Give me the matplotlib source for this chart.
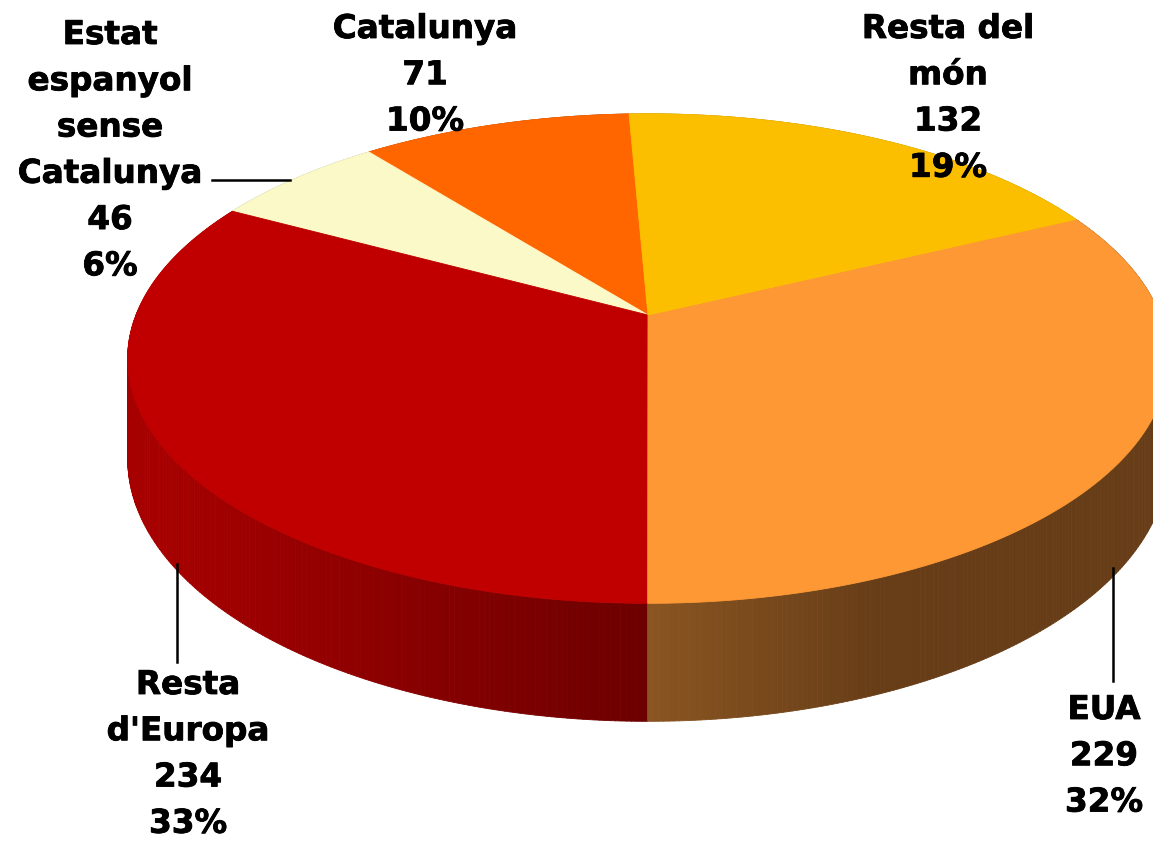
import numpy as np
import matplotlib
matplotlib.use("Agg")
import matplotlib.pyplot as plt
from matplotlib.collections import PolyCollection
from matplotlib.patches import Polygon
from matplotlib.colors import to_rgb
import matplotlib.patheffects as pe

# ---- data ----
categories = ["Catalunya", "Estat espanyol sense Catalunya", "Resta d'Europa", "EUA", "Resta del món"]
label_lines = ["Catalunya", "Estat\nespanyol\nsense\nCatalunya", "Resta\nd'Europa", "EUA", "Resta del\nmón"]
values = [71, 46, 234, 229, 132]
top_colors = ["#FF6600", "#FBF9C8", "#C00000", "#FD9834", "#FBBF00"]
# side gradient: (colour near pie centre-x, colour at far x, far x offset in px)
side_near = ["#B04A00", "#BDB990", "#6C0000", "#8A5521", "#B08600"]
side_far = ["#B04A00", "#BDB990", "#A60000", "#673D17", "#B08600"]
side_span = [300, 300, 480, 230, 300]

# label layout (pixel positions)
label_pos = [(425, 13), (110, 19), (188, 669), (1104, 694), (948, 13)]

# ---- geometry (pixel space) ----
W, H = 1153, 845
CX, CY = 648, 316
R = 512
A = 237
B = -0.178
DEPTH = 97
START = -2.5  # degrees, clockwise from the far side


def proj(theta_deg, r=1.0, depth=0.0):
    t = np.radians(theta_deg)
    u = r * np.sin(t)
    v = -r * np.cos(t)
    w = 1 + B * v
    return CX + R * u / w, CY + (A * v + depth) / w, v


fig = plt.figure(figsize=(W / 100, H / 100), dpi=100)
ax = fig.add_axes([0, 0, 1, 1])
ax.set_xlim(0, W)
ax.set_ylim(H, 0)
ax.axis("off")

total = sum(values)
angles = []
cur = START
for val in values:
    span = 360.0 * val / total
    angles.append((cur - span, cur))
    cur -= span

# side walls
quads, cols, keys = [], [], []
for i, (a0, a1) in enumerate(angles):
    th = np.linspace(a0, a1, 240)
    xt, yt, v = proj(th)
    xb, yb, _ = proj(th, depth=DEPTH)
    cn = np.array(to_rgb(side_near[i]))
    cf = np.array(to_rgb(side_far[i]))
    for k in range(len(th) - 1):
        q = [(xt[k], yt[k]), (xt[k + 1], yt[k + 1]), (xb[k + 1], yb[k + 1]), (xb[k], yb[k])]
        xm = 0.5 * (xt[k] + xt[k + 1])
        f = min(abs(xm - CX) / side_span[i], 1.0)
        c = cn + (cf - cn) * f
        quads.append(q)
        cols.append(c)
        keys.append(0.5 * (v[k] + v[k + 1]))
order = np.argsort(keys)
pc = PolyCollection([quads[j] for j in order], facecolors=[cols[j] for j in order],
                    edgecolors=[cols[j] for j in order], linewidths=0.6, zorder=1)
ax.add_collection(pc)

# top faces
for i, (a0, a1) in enumerate(angles):
    th = np.linspace(a0, a1, 300)
    xt, yt, _ = proj(th)
    pts = [(CX, CY)] + list(zip(xt, yt))
    ax.add_patch(Polygon(pts, closed=True, facecolor=top_colors[i], edgecolor=top_colors[i],
                         linewidth=0.6, zorder=2))

# leader lines
ax.plot([212, 290], [181, 181], color="black", lw=1.8, zorder=3)
ax.plot([177, 177], [565, 663], color="black", lw=1.8, zorder=3)
ax.plot([1113, 1113], [569, 682], color="black", lw=1.8, zorder=3)

# labels
for i, name in enumerate(label_lines):
    pct = round(100 * values[i] / total)
    txt = f"{name}\n{values[i]}\n{pct}%"
    x, y = label_pos[i]
    ax.text(x, y, txt, ha="center", va="top", multialignment="center",
            fontsize=23.5, fontweight="bold", family="DejaVu Sans",
            linespacing=1.51, color="black", zorder=4,
            path_effects=[pe.withStroke(linewidth=0.6, foreground="black")])

fig.savefig("out.png", dpi=100)
